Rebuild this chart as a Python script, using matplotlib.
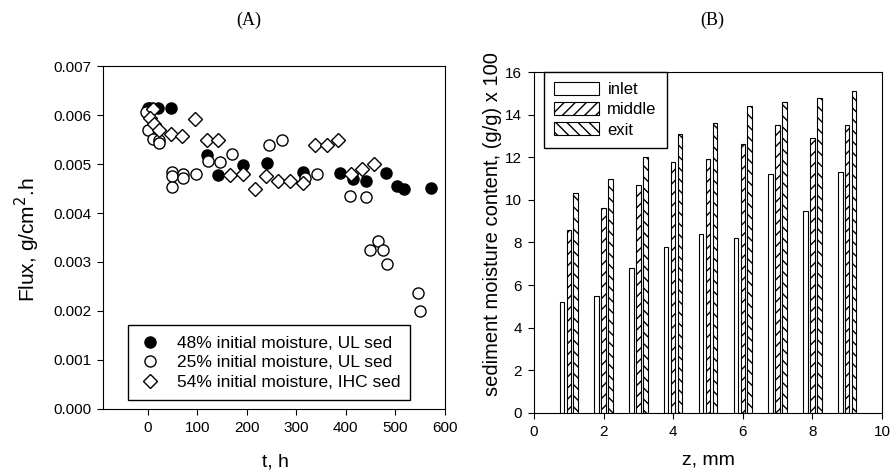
import matplotlib
matplotlib.use("Agg")
import matplotlib.pyplot as plt
import numpy as np

plt.rcParams['font.family'] = ['Liberation Sans', 'DejaVu Sans']

# panel A: flux vs time
t_48 = [0, 5, 20, 48, 119, 143, 192, 241, 313, 389, 415, 440, 481, 504, 518, 571]
f_48 = [0.00615, 0.00615, 0.00615, 0.00615, 0.00518, 0.00478, 0.00498, 0.00503,
        0.00484, 0.00482, 0.00469, 0.00466, 0.00481, 0.00456, 0.00448, 0.00452]

t_25 = [-3, 1, 11, 24, 24, 49, 49, 49, 72, 72, 97, 121, 146, 170, 244, 271,
        317, 341, 408, 440, 449, 465, 474, 483, 545, 550]
f_25 = [0.00607, 0.00569, 0.00552, 0.00549, 0.00542, 0.00484, 0.00476, 0.00454,
        0.00480, 0.00471, 0.00480, 0.00507, 0.00505, 0.00520, 0.00539, 0.00549,
        0.00471, 0.00480, 0.00435, 0.00433, 0.00324, 0.00343, 0.00324, 0.00296,
        0.00237, 0.00199]

t_54 = [10, 4, 12, 23, 47, 70, 95, 119, 143, 166, 192, 216, 239, 264, 288, 313,
        337, 361, 385, 410, 433, 457]
f_54 = [0.00612, 0.00593, 0.00581, 0.00569, 0.00561, 0.00557, 0.00591, 0.00549,
        0.00548, 0.00478, 0.00480, 0.00450, 0.00476, 0.00466, 0.00466, 0.00461,
        0.00539, 0.00539, 0.00550, 0.00480, 0.00490, 0.00501]

# panel B: moisture content along the column
z = [1, 2, 3, 4, 5, 6, 7, 8, 9]
inlet = [5.2, 5.5, 6.8, 7.8, 8.4, 8.2, 11.2, 9.5, 11.3]
middle = [8.6, 9.6, 10.7, 11.8, 11.9, 12.6, 13.5, 12.9, 13.5]
exit_ = [10.3, 11.0, 12.0, 13.1, 13.6, 14.4, 14.6, 14.8, 15.1]

W, H = 891, 476
fig = plt.figure(figsize=(W / 100, H / 100), dpi=100)

def fx(px):
    return px / W

def fy(py):
    return 1 - py / H

axA = fig.add_axes([0.1156, 0.1408, 0.3838, 0.7205])
ms = 8
axA.plot(t_48, f_48, 'o', ms=ms, mfc='black', mec='black', mew=1,
         label='48% initial moisture, UL sed')
axA.plot(t_25, f_25, 'o', ms=ms, mfc='white', mec='black', mew=1,
         label='25% initial moisture, UL sed')
axA.plot(t_54, f_54, 'D', ms=6.8, mfc='white', mec='black', mew=1,
         label='54% initial moisture, IHC sed')
axA.set_xlim(-90, 600)
axA.set_ylim(0, 0.007)
axA.set_xticks([0, 100, 200, 300, 400, 500, 600])
yt = np.arange(0, 0.0071, 0.001)
axA.set_yticks(yt)
axA.set_yticklabels(['%.3f' % v for v in yt])
axA.tick_params(direction='out', labelsize=11, length=4.5, pad=4)
axA.legend(loc='lower left', bbox_to_anchor=(0.073, 0.026), fontsize=12.5,
           frameon=True, fancybox=False, edgecolor='black', framealpha=1,
           handletextpad=0.9, borderpad=0.6, labelspacing=0.25, handlelength=1.3,
           borderaxespad=0)
fig.text(fx(249), fy(20), '(A)', fontsize=13, family='Liberation Serif',
         ha='center', va='center')
fig.text(fx(275), fy(462), 't, h', fontsize=14, ha='center', va='center')
fig.text(fx(27), fy(240), 'Flux, g/cm$^2$.h', fontsize=15, rotation=90,
         ha='center', va='center')

axB = fig.add_axes([0.5993, 0.1324, 0.3906, 0.7163])
zz = np.array(z)
w = 0.13
axB.bar(zz - 0.2, inlet, width=w, color='white', edgecolor='black', lw=0.8, label='inlet')
axB.bar(zz, middle, width=w, color='white', edgecolor='black', lw=0.8,
        hatch='///', label='middle')
axB.bar(zz + 0.2, exit_, width=w, color='white', edgecolor='black', lw=0.8,
        hatch='\\\\\\', label='exit')
axB.set_xlim(0, 10)
axB.set_ylim(0, 16)
axB.set_xticks([0, 2, 4, 6, 8, 10])
axB.set_yticks(range(0, 17, 2))
axB.tick_params(direction='out', labelsize=11, length=4.5, pad=4)
axB.legend(loc='upper left', bbox_to_anchor=(0.029, 1.0), fontsize=12,
           frameon=True, fancybox=False, edgecolor='black', framealpha=1,
           handlelength=2.7, handleheight=0.8, labelspacing=0.3, borderpad=0.6,
           handletextpad=0.5, borderaxespad=0)
fig.text(fx(712), fy(20), '(B)', fontsize=13, family='Liberation Serif',
         ha='center', va='center')
fig.text(fx(708), fy(460), 'z, mm', fontsize=14, ha='center', va='center')
fig.text(fx(492), fy(224), 'sediment moisture content, (g/g) x 100', fontsize=14.5,
         rotation=90, ha='center', va='center')

fig.savefig('out.png', dpi=100)
